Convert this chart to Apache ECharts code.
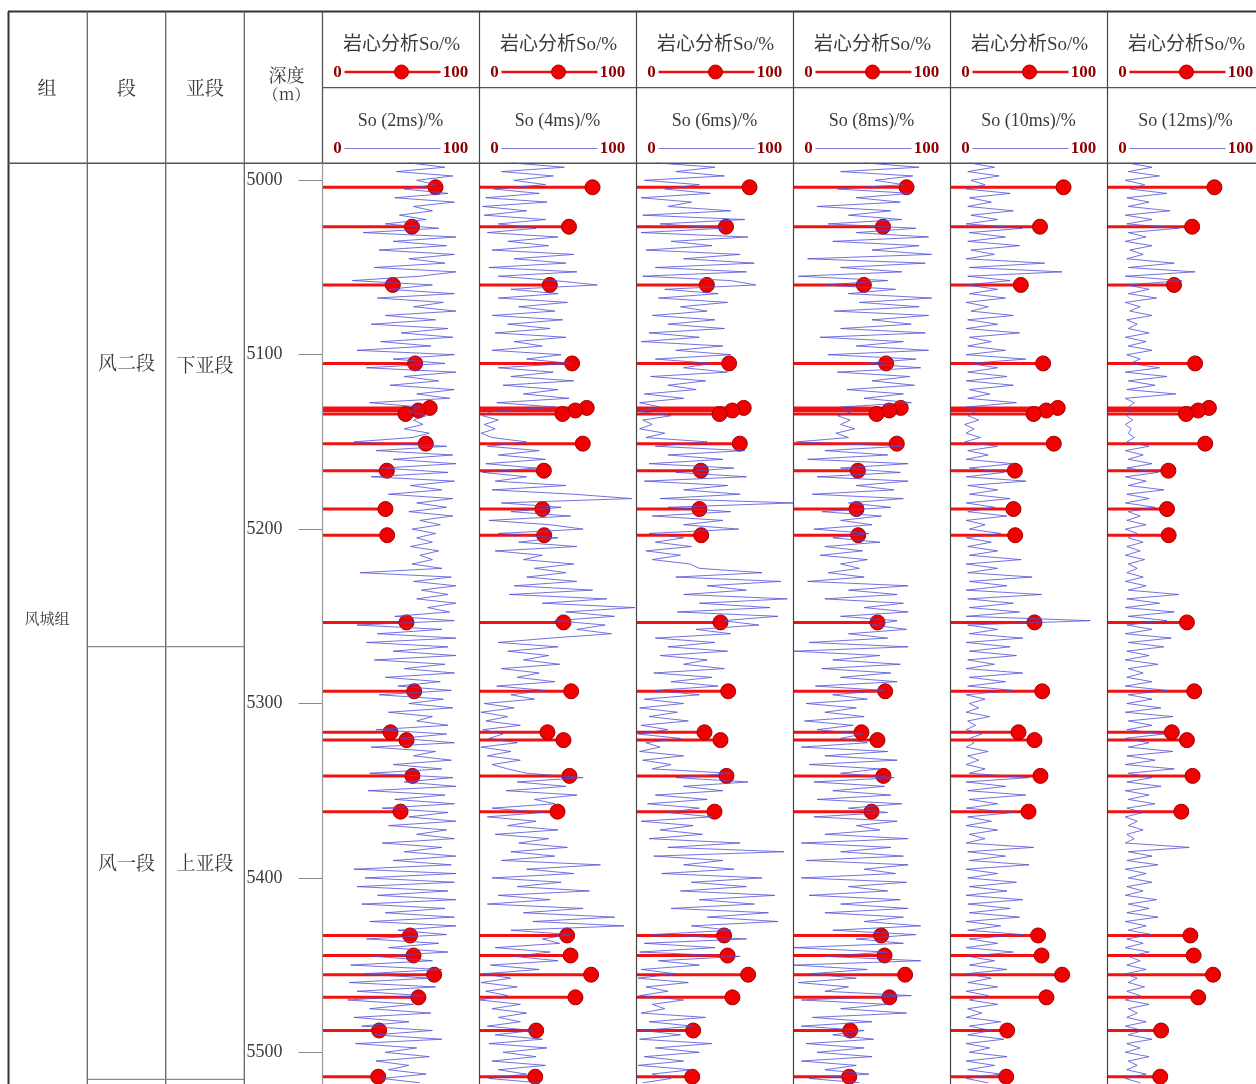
<!DOCTYPE html>
<html>
<head>
<meta charset="utf-8">
<script src="https://cdn.jsdelivr.net/npm/echarts@6/dist/echarts.min.js"></script>
<style>
html,body{margin:0;padding:0;background:#fff;}
#chart{width:1256px;height:1084px;}
</style>
</head>
<body>
<div id="chart"></div>
<script>
// ---------------- data ----------------
const depthMin = 4990;
const depthMax = 5518;
const depthTicks = [5000, 5100, 5200, 5300, 5400, 5500];

const trackTitles = ['So (2ms)/%', 'So (4ms)/%', 'So (6ms)/%', 'So (8ms)/%', 'So (10ms)/%', 'So (12ms)/%'];
const coreTitle = '岩心分析So/%';

// core analysis So (same samples in every track)
const coreDepth = [5004, 5026.6, 5060, 5105, 5130.5, 5132, 5134, 5151, 5166.5, 5188.5, 5203.5, 5253.5,
  5293, 5316.5, 5321, 5341.5, 5362, 5433, 5444.5, 5455.5, 5468.5, 5487.5, 5514];
const coreSo = [72, 57, 44.8, 59, 68.3, 61, 52.9, 65.8, 41, 40.1, 41.2, 53.5,
  58.4, 43.3, 53.5, 57.3, 49.7, 55.8, 58, 71.1, 61.1, 36.1, 35.5];

// NMR-derived So curves, sampled every 2.5 m from 4990 m
const curveTop = 4990;
const curveStep = 2.5;
const so2ms = [
  55,78,47,83,60,72,52,80,46,84,
  58,70,49,66,40,74,26,85,45,79,
  36,84,55,78,33,85,62,19,70,42,
  84,35,77,58,85,40,72,31,80,50,
  83,37,69,22,84,45,78,28,85,52,
  74,43,84,60,81,30,62,55,66,58,
  64,52,68,57,20,79,34,83,45,85,
  38,80,31,84,56,76,42,83,60,79,
  55,83,62,75,57,72,60,70,56,74,
  62,70,57,76,24,82,58,85,63,80,
  60,85,67,81,46,84,22,76,35,85,
  28,80,45,85,33,78,52,84,40,75,
  48,82,36,77,55,83,42,70,60,80,
  34,79,50,84,31,72,58,82,45,76,
  30,83,52,85,29,78,46,84,38,80,
  55,85,42,79,60,84,38,76,52,85,
  45,82,20,85,27,84,22,80,35,85,
  25,78,40,84,30,85,48,79,28,74,
  42,80,33,70,18,76,26,68,17,72,
  22,64,16,58,30,69,20,55,25,70,
  33,76,21,60,40,68,34,55,42,66,
  38,62];
const so4ms = [
  20,54,14,47,22,42,9,38,4,43,
  2,30,3,42,12,36,5,50,18,44,
  8,60,22,55,6,62,12,48,75,20,
  50,12,56,25,48,8,53,18,45,10,
  55,22,40,8,52,30,58,12,47,20,
  60,15,50,28,57,11,48,8,2,12,
  3,10,1,8,30,5,38,12,42,4,
  36,2,30,10,55,8,60,97,14,52,
  20,58,6,45,66,12,50,25,62,10,
  40,28,60,35,55,30,62,22,72,19,
  81,40,99,55,86,48,80,62,84,45,
  12,50,18,44,28,51,14,38,24,48,
  11,42,20,35,3,22,1,18,4,26,
  2,15,6,24,1,20,5,26,8,18,
  30,66,24,55,17,62,35,48,8,40,
  5,36,18,50,10,44,25,56,20,48,
  14,77,30,60,8,52,24,70,12,45,
  5,66,28,86,34,92,20,58,40,51,
  10,45,22,50,7,38,2,20,1,24,
  4,18,0,26,8,30,12,26,5,34,
  10,40,6,43,15,36,8,42,12,30,
  6,38];
const so6ms = [
  12,50,25,56,5,40,18,47,3,35,
  20,60,4,69,15,55,3,71,22,48,
  6,66,30,75,12,70,4,60,76,18,
  52,14,58,28,45,10,50,20,56,8,
  40,3,55,25,60,12,48,30,58,9,
  44,20,38,5,30,2,15,1,22,4,
  10,2,18,6,45,12,69,20,55,8,
  62,25,70,5,58,30,66,15,100,20,
  60,10,55,30,65,8,30,12,35,6,
  28,10,34,40,80,25,92,45,70,30,
  96,40,85,26,90,55,78,38,60,12,
  50,20,58,15,45,30,56,11,48,22,
  52,12,40,5,30,2,26,8,33,3,
  20,1,28,6,15,2,30,4,22,10,
  60,25,71,30,55,12,45,7,40,20,
  48,3,36,15,42,8,66,20,94,11,
  55,30,62,16,80,35,70,28,88,40,
  75,22,84,45,90,35,60,10,70,5,
  50,2,66,14,40,3,25,1,33,6,
  20,2,30,10,18,3,44,8,36,4,
  28,2,48,12,40,5,30,1,35,10,
  22,4];
const so8ms = [
  45,80,30,76,52,70,28,75,40,68,
  15,62,35,69,22,78,40,86,25,80,
  50,88,9,84,30,69,3,60,20,65,
  35,88,42,80,26,86,50,75,30,84,
  17,70,40,86,22,78,45,81,28,74,
  50,77,34,70,45,75,30,38,28,36,
  30,39,27,35,2,69,20,60,9,73,
  30,68,15,73,40,64,12,70,35,62,
  18,56,30,50,13,48,25,55,20,44,
  17,47,30,42,22,45,9,73,35,66,
  20,70,45,73,30,66,50,72,35,60,
  10,73,0,55,25,68,18,62,30,66,
  14,58,25,47,8,40,20,45,7,38,
  15,44,30,47,5,60,20,66,10,55,
  30,64,13,58,25,62,15,69,35,60,
  13,66,40,55,20,73,5,62,30,70,
  8,73,45,65,5,72,35,60,10,68,
  30,73,20,70,45,81,25,78,40,70,
  0,60,20,81,0,47,10,40,3,35,
  20,75,5,60,30,72,12,50,5,45,
  25,51,8,45,15,50,5,40,20,48,
  10,42];
const so10ms = [
  12,28,11,31,13,22,10,38,12,26,
  11,40,13,30,10,46,12,35,11,44,
  13,28,10,60,12,71,11,38,10,30,
  12,35,10,24,13,40,11,30,10,44,
  12,26,11,35,10,48,12,30,11,36,
  10,40,12,25,11,42,10,16,11,18,
  9,15,10,19,9,30,11,24,10,40,
  12,34,10,48,11,30,12,38,10,28,
  11,36,10,22,12,32,10,26,11,30,
  12,45,10,30,11,52,12,36,10,58,
  11,40,12,44,10,89,11,30,12,46,
  10,38,12,42,11,28,10,46,12,35,
  11,40,10,22,12,18,10,25,11,16,
  10,20,12,15,10,24,11,18,10,22,
  12,50,10,35,11,48,12,30,10,40,
  11,26,10,30,12,22,10,53,11,35,
  12,50,10,30,11,42,12,36,10,46,
  11,38,12,44,10,32,11,46,12,30,
  10,40,11,28,12,36,10,26,11,30,
  10,24,12,30,11,20,10,32,12,26,
  11,34,10,25,12,36,10,28,11,32,
  10,24];
const so12ms = [
  13,30,14,35,12,25,15,40,13,28,
  14,42,12,30,13,48,14,26,12,30,
  15,24,13,45,14,59,12,50,13,28,
  14,33,12,22,15,30,13,20,14,28,
  12,26,14,30,13,22,15,35,12,40,
  14,32,13,46,12,18,14,16,13,17,
  12,16,14,18,13,28,12,24,14,30,
  13,34,12,26,14,38,13,28,12,32,
  14,22,13,26,12,20,14,24,13,22,
  12,25,14,20,13,24,12,26,14,48,
  13,35,12,45,14,40,13,30,12,43,
  14,38,13,28,12,34,14,24,13,30,
  12,40,14,30,13,36,12,44,14,30,
  13,38,12,28,14,44,13,32,12,45,
  14,30,13,36,12,28,14,32,13,24,
  12,20,14,24,13,18,12,55,14,30,
  13,34,12,26,14,30,13,24,12,33,
  14,28,13,34,12,26,14,30,13,24,
  12,28,14,22,13,26,12,20,14,25,
  13,22,12,28,14,20,13,26,12,24,
  14,30,13,22,12,28,14,20,13,26,
  12,22];
const curves = [so2ms, so4ms, so6ms, so8ms, so10ms, so12ms];

// strata columns
const zuName = '风城组';
const duanNames = ['风二段', '风一段'];
const yaduanNames = ['下亚段', '上亚段'];

// ---------------- layout ----------------
const pxPerM = 1.744;
const y5000 = 180.3;
const gridTop = y5000 - (5000 - depthMin) * pxPerM;
const gridH = (depthMax - depthMin) * pxPerM;
const trackX0 = 322.5;
const trackW = 157;

const CJK = '"Noto Serif CJK SC","Noto Sans CJK SC",serif';
const SERIF = '"Liberation Serif","Noto Sans CJK SC",serif';
const textColor = '#3a3a3a';
const scaleRed = '#8b0000';
const scaleFont = 'bold 17px "Liberation Serif",serif';

const chart = echarts.init(document.getElementById('chart'), null, {renderer: 'canvas'});

const grids = [], xAxes = [], yAxes = [], series = [];
for (let k = 0; k < 6; k++) {
  grids.push({left: trackX0 + k * trackW, top: gridTop, width: trackW, height: gridH});
  xAxes.push({type: 'value', gridIndex: k, min: 0, max: 100, show: false});
  yAxes.push({
    type: 'value', gridIndex: k, min: depthMin, max: depthMax, inverse: true,
    show: k === 0,
    axisLine: {show: false},
    splitLine: {show: false},
    axisTick: {show: true, length: 24, customValues: depthTicks, lineStyle: {color: '#888', width: 1}},
    axisLabel: {show: true, customValues: depthTicks, margin: 40, fontSize: 18,
      formatter: v => String(v),
      color: textColor, fontFamily: '"Liberation Serif",serif'}
  });
  const coreData = coreDepth.map((d, i) => [coreSo[i], d]);
  series.push({
    type: 'custom', xAxisIndex: k, yAxisIndex: k, z: 2, silent: true,
    encode: {x: 0, y: 1},
    data: coreData,
    renderItem: (params, api) => {
      const p0 = api.coord([0, api.value(1)]);
      const p1 = api.coord([api.value(0), api.value(1)]);
      return {type: 'line', shape: {x1: p0[0], y1: p0[1], x2: p1[0], y2: p1[1]},
        style: {stroke: '#f21010', lineWidth: 3}};
    }
  });
  series.push({
    type: 'scatter', xAxisIndex: k, yAxisIndex: k, z: 3, silent: true,
    symbolSize: 15, data: coreData,
    itemStyle: {color: '#f00000', borderColor: '#a00000', borderWidth: 1, opacity: 1}
  });
  series.push({
    type: 'line', xAxisIndex: k, yAxisIndex: k, z: 4, silent: true,
    showSymbol: false, symbol: 'none', clip: true,
    data: curves[k].map((v, i) => [v, curveTop + i * curveStep]),
    lineStyle: {color: '#4f4fd8', width: 1, opacity: 0.8}
  });
}

// ---------------- table frame / headers (decoration) ----------------
const g = [];
const line = (x1, y1, x2, y2, color, w) => g.push({type: 'line', silent: true, z: 10,
  shape: {x1, y1, x2, y2}, style: {stroke: color, lineWidth: w}});
const text = (t, x, y, font, fill, align) => g.push({type: 'text', silent: true, z: 11, x, y,
  style: {text: t, font, fill, textAlign: align || 'center', textVerticalAlign: 'middle',
    align: align || 'center', verticalAlign: 'middle'}});

const W = 1256, H = 1084;
const headTop = 11.5, headMid = 87.7, headBot = 163.3;
line(8, headTop, W, headTop, '#333', 2);
line(8.5, headTop, 8.5, H, '#333', 2);
line(8, headBot, W, headBot, '#555', 1.4);
line(trackX0, headMid, W, headMid, '#555', 1.3);
[87.3, 165.7, 244.3].forEach(x => line(x, headTop, x, H, '#666', 1.3));
line(trackX0, headTop, trackX0, headBot, '#555', 1.3);
line(trackX0, headBot, trackX0, H, '#999', 1.2);
for (let k = 1; k < 6; k++) {
  const x = trackX0 + k * trackW;
  line(x, headTop, x, H, '#444', 1.2);
}
line(87.3, 646.7, 244.3, 646.7, '#888', 1.2);
line(87.3, 1079.3, 244.3, 1079.3, '#888', 1.2);

// left header texts
text('组', 47, 88, '19px ' + CJK, textColor);
text('段', 126.5, 88, '19px ' + CJK, textColor);
text('亚段', 205, 88, '19px ' + CJK, textColor);
text('深度', 286.5, 75, '18px ' + CJK, textColor);
text('（m）', 286.5, 94, '16px ' + CJK, textColor);

// strata texts
text(zuName, 47, 618, '15px ' + CJK, textColor);
text(duanNames[0], 126.5, 363, '19px ' + CJK, textColor);
text(yaduanNames[0], 205, 365, '19px ' + CJK, textColor);
text(duanNames[1], 126.5, 863, '19px ' + CJK, textColor);
text(yaduanNames[1], 205, 863, '19px ' + CJK, textColor);

// track headers
for (let k = 0; k < 6; k++) {
  const x0 = trackX0 + k * trackW;
  text(coreTitle, x0 + 79, 45, '19px ' + SERIF, textColor);
  text('0', x0 + 15, 72.5, scaleFont, scaleRed);
  text('100', x0 + 133, 72.5, scaleFont, scaleRed);
  line(x0 + 22, 72, x0 + 118, 72, '#ee1010', 2.6);
  g.push({type: 'circle', silent: true, z: 12, shape: {cx: x0 + 79, cy: 72, r: 7},
    style: {fill: '#f00000', stroke: '#b00000', lineWidth: 1}});
  text(trackTitles[k], x0 + 78, 121.5, '18px ' + SERIF, textColor);
  text('0', x0 + 15, 148.5, scaleFont, scaleRed);
  text('100', x0 + 133, 148.5, scaleFont, scaleRed);
  line(x0 + 22, 148.5, x0 + 118, 148.5, '#7a7ad6', 1);
}

chart.setOption({
  backgroundColor: '#fff',
  animation: false,
  grid: grids,
  xAxis: xAxes,
  yAxis: yAxes,
  series: series,
  graphic: {elements: g}
});
</script>
</body>
</html>
